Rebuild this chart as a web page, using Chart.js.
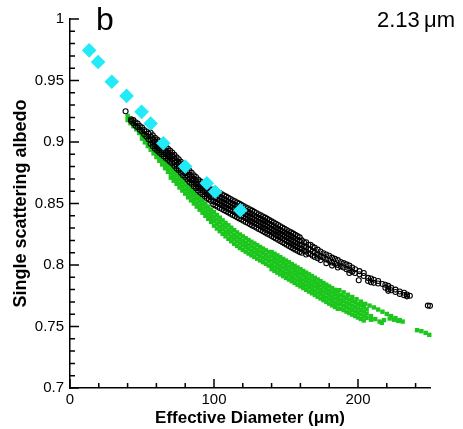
<!DOCTYPE html>
<html>
<head>
<meta charset="utf-8">
<script src="https://cdn.jsdelivr.net/npm/chart.js@4.4.1/dist/chart.umd.min.js"></script>
<style>
html, body { margin: 0; padding: 0; background: #fff; }
canvas { display: block; }
</style>
</head>
<body>
<canvas id="chart" width="463" height="429"></canvas>
<script>
const xMajorTicks = [0, 100, 200];
const xMinorTicks = [20, 40, 60, 80, 120, 140, 160, 180, 220, 240];
const yMajorTicks = [0.7, 0.75, 0.8, 0.85, 0.9, 0.95, 1];
const yMinorTicks = [0.71, 0.72, 0.73, 0.74, 0.76, 0.77, 0.78, 0.79, 0.81, 0.82, 0.83, 0.84,
    0.86, 0.87, 0.88, 0.89, 0.91, 0.92, 0.93, 0.94, 0.96, 0.97, 0.98, 0.99];

// cyan diamonds
const cyanX = [13.3, 19.5, 29, 39.3, 49.7, 56, 64.8, 80, 95, 100.8, 118.3];
const cyanY = [0.9745, 0.965, 0.949, 0.9375, 0.9245, 0.915, 0.899, 0.88, 0.8665, 0.8595, 0.8445];

// black open circles, one row per diameter: [x, y, y, ...]
const blackCols = [
    [38.6, .925],
    [42.5, .9185, .9170], [44, .9178, .9152], [45.5, .9160, .9132], [47, .9150, .9120],
    [48.5, .9130, .9100], [50, .9118, .9085], [51.5, .9098, .9062], [53, .9085, .9045],
    [54.5, .9068, .9022],
    [56, .9075, .9045, .9015, .8985], [57.5, .9055, .9025, .8995, .8965],
    [59, .9035, .9005, .8975, .8945], [60.5, .9020, .8990, .8960, .8930],
    [62, .9005, .8975, .8945, .8915], [63.5, .8990, .8960, .8930, .8900],
    [65, .8975, .8945, .8915, .8885], [66.5, .8960, .8930, .8900, .8870],
    [68, .8945, .8915, .8885, .8855], [69.5, .8930, .8900, .8870, .8840],
    [71, .8915, .8885, .8855, .8825], [72.5, .8895, .8865, .8835, .8805],
    [74, .8875, .8845, .8815, .8785], [75.5, .8860, .8830, .8800, .8770],
    [77, .8840, .8810, .8780, .8750], [78.5, .8820, .8790, .8760, .8730],
    [80, .8805, .8775, .8745, .8715], [81.5, .8785, .8755, .8725, .8695],
    [83, .8765, .8735, .8705, .8675], [84.5, .8750, .8720, .8690, .8660],
    [86, .8730, .8700, .8670, .8640], [87.5, .8715, .8685, .8655, .8625],
    [89, .8695, .8665, .8635, .8605], [90.5, .8680, .8650, .8620, .8590],
    [92, .8665, .8635, .8605, .8575], [93.5, .8650, .8620, .8590, .8560],
    [95, .8635, .8605, .8575, .8545], [96.5, .8623, .8593, .8563, .8533],
    [98, .8610, .8580, .8550, .8520],
    [99.5, .8613, .8583, .8553, .8523, .8493], [101, .8603, .8573, .8543, .8513, .8483],
    [102.5, .8594, .8564, .8534, .8504, .8474], [104, .8584, .8554, .8524, .8494, .8464],
    [105.5, .8575, .8545, .8515, .8485, .8455], [107, .8565, .8535, .8505, .8475, .8445],
    [108.5, .8556, .8526, .8496, .8466, .8436], [110, .8546, .8516, .8486, .8456, .8426],
    [111.5, .8537, .8507, .8477, .8447, .8417], [113, .8527, .8497, .8467, .8437, .8407],
    [114.5, .8518, .8488, .8458, .8428, .8398], [116, .8508, .8478, .8448, .8418, .8388],
    [117.5, .8499, .8469, .8439, .8409, .8379], [119, .8489, .8459, .8429, .8399, .8369],
    [120.5, .8480, .8450, .8420, .8390, .8360], [122, .8470, .8440, .8410, .8380, .8350],
    [123.5, .8461, .8431, .8401, .8371, .8341], [125, .8451, .8421, .8391, .8361, .8331],
    [126.5, .8442, .8412, .8382, .8352, .8322], [128, .8432, .8402, .8372, .8342, .8312],
    [129.5, .8423, .8393, .8363, .8333, .8303], [131, .8413, .8383, .8353, .8323, .8293],
    [132.5, .8404, .8374, .8344, .8314, .8284], [134, .8394, .8364, .8334, .8304, .8274],
    [135.5, .8385, .8355, .8325, .8295, .8265], [137, .8375, .8345, .8315, .8285, .8255],
    [138.5, .8365, .8335, .8305, .8275, .8245], [140, .8355, .8325, .8295, .8265, .8235],
    [141.5, .8345, .8315, .8285, .8255, .8225], [143, .8335, .8305, .8275, .8245, .8215],
    [144.5, .8325, .8295, .8265, .8235, .8205], [146, .8315, .8285, .8255, .8225, .8195],
    [147.5, .8305, .8275, .8245, .8215, .8185], [149, .8295, .8265, .8235, .8205, .8175],
    [150.5, .8285, .8255, .8225, .8195, .8165], [152, .8275, .8245, .8215, .8185, .8155],
    [153.5, .8265, .8235, .8205, .8175, .8145], [155, .8255, .8225, .8195, .8165, .8135],
    [156.5, .8245, .8215, .8185, .8155, .8125], [158, .8235, .8205, .8175, .8145, .8115],
    [159.5, .8225, .8195, .8165, .8135, .8105],
    [161, .8200, .8165, .8130, .8100], [162.5, .8185, .8150, .8115],
    [164, .8185, .8145, .8110, .8085], [165.5, .8165, .8130, .8095],
    [167, .8165, .8125, .8090], [168.5, .8150, .8110, .8075],
    [170, .8140, .8100, .8065], [172, .8125, .8085, .8055],
    [174, .8110, .8070, .8040], [176, .8095, .8060],
    [178, .8085, .8045, .8015], [180, .8075, .8035],
    [182, .8060, .8020, .7995], [184, .8050, .8010],
    [186, .8040, .8000, .7980], [188, .8025, .7990],
    [190, .8015, .7980], [192, .8005, .7965],
    [194, .7995, .7960, .7935], [196, .7980, .7945],
    [198, .7965, .7935], [200.5, .7876], [201, .7950, .7925],
    [204, .7935, .7910], [207, .7895, .7870], [209, .7890, .7860],
    [211, .7880, .7855], [214, .7870, .7850], [217, .7845],
    [219, .7840, .7815], [221, .7830, .7805, .7790], [223, .7815, .7795],
    [226, .7800, .7780], [229, .7785, .7765], [232, .7775, .7755],
    [234, .7760, .7745], [236, .7750], [248.5, .7670], [250, .7668]
];

// green filled squares, same layout
const greenCols = [
    [40, .9212, .9178], [42, .9187, .9153], [44, .9162, .9128], [46, .9137, .9103],
    [48, .9107, .9073],
    [50, .9093, .9060, .9027], [52, .9063, .9030, .8997], [54, .9033, .9000, .8967],
    [56, .9003, .8970, .8937], [58, .8973, .8940, .8907], [60, .8943, .8910, .8877],
    [62, .8913, .8880, .8847], [64, .8883, .8850, .8817], [66, .8853, .8820, .8787],
    [68, .8823, .8790, .8757],
    [70, .8810, .8777, .8743, .8710], [72, .8785, .8752, .8718, .8685],
    [74, .8760, .8727, .8693, .8660], [76, .8730, .8697, .8663, .8630],
    [78, .8705, .8672, .8638, .8605], [80, .8680, .8647, .8613, .8580],
    [82, .8650, .8617, .8583, .8550], [84, .8625, .8592, .8558, .8525],
    [86, .8600, .8567, .8533, .8500], [88, .8575, .8542, .8508, .8475],
    [90, .8550, .8517, .8483, .8450], [92, .8525, .8492, .8458, .8425],
    [94, .8500, .8467, .8433, .8400], [96, .8475, .8442, .8408, .8375],
    [98, .8450, .8417, .8383, .8350],
    [100, .8430, .8393, .8357, .8320], [102, .8407, .8370, .8334, .8297],
    [104, .8385, .8348, .8312, .8275], [106, .8363, .8326, .8290, .8253],
    [108, .8343, .8306, .8270, .8233], [110, .8323, .8286, .8250, .8213],
    [112, .8303, .8266, .8230, .8193], [114, .8283, .8246, .8210, .8173],
    [116, .8265, .8228, .8192, .8155], [118, .8248, .8211, .8175, .8138],
    [120, .8233, .8196, .8160, .8123], [122, .8218, .8181, .8145, .8108],
    [124, .8203, .8166, .8130, .8093], [126, .8189, .8152, .8116, .8079],
    [128, .8175, .8138, .8102, .8065], [130, .8161, .8124, .8088, .8051],
    [132, .8147, .8110, .8074, .8037], [134, .8133, .8096, .8060, .8023],
    [136, .8119, .8082, .8046, .8009], [138, .8105, .8068, .8032, .7995],
    [140, .8106, .8071, .8036, .8001, .7966], [142, .8092, .8057, .8022, .7987, .7952],
    [144, .8078, .8043, .8008, .7973, .7938], [146, .8064, .8029, .7994, .7959, .7924],
    [148, .8050, .8015, .7980, .7945, .7910], [150, .8036, .8001, .7966, .7931, .7896],
    [152, .8022, .7987, .7952, .7917, .7882], [154, .8008, .7973, .7938, .7903, .7868],
    [156, .7994, .7959, .7924, .7889, .7854], [158, .7980, .7945, .7910, .7875, .7840],
    [160, .7966, .7931, .7896, .7861, .7826], [162, .7952, .7917, .7882, .7847, .7812],
    [164, .7938, .7903, .7868, .7833, .7798], [166, .7924, .7889, .7854, .7819, .7784],
    [168, .7910, .7875, .7840, .7805, .7770], [170, .7896, .7861, .7826, .7791, .7756],
    [172, .7882, .7847, .7812, .7777, .7742], [174, .7868, .7833, .7798, .7763, .7728],
    [176, .7854, .7819, .7784, .7749, .7714], [178, .7840, .7805, .7770, .7735, .7700],
    [180, .7826, .7791, .7756, .7721, .7686], [182, .7812, .7777, .7742, .7707, .7672],
    [184, .7798, .7763, .7728, .7693, .7658], [186, .7784, .7749, .7714, .7679, .7644],
    [188, .7755, .7718, .7682, .7645], [190, .7743, .7706, .7670, .7633],
    [192, .7731, .7694, .7658, .7621], [194, .7719, .7682, .7646, .7609],
    [196, .7707, .7670, .7634, .7597], [198, .7695, .7658, .7622, .7585],
    [200, .7683, .7646, .7610, .7573], [202, .7671, .7634, .7598, .7561],
    [204, .7659, .7622, .7586, .7549], [206, .7640, .7605, .7570],
    [187, .7795], [190, .7778], [193, .7758], [196, .7740], [199, .7722], [202, .7702],
    [205, .7684], [208, .7670], [211, .7655], [214, .7638], [217, .7620], [220, .7602],
    [223, .7585], [226, .7568], [229, .7552], [231, .7540],
    [209, .7585, .7555], [212, .7560], [215, .7540], [216.5, .7530], [218, .7552],
    [222, .7565], [225, .7555], [228, .7545], [241, .7470], [244, .7462],
    [247, .7448], [249.5, .7432]
];

function colsToPoints(cols) {
    return cols.flatMap(c => c.slice(1).map(y => ({ x: c[0], y: y })));
}

const FONT = '"Liberation Sans", Arial, Helvetica, sans-serif';

const innerTicks = {
    id: 'innerTicks',
    afterDraw(chart) {
        const { ctx, chartArea, scales } = chart;
        const xs = scales.x, ys = scales.y;
        ctx.save();
        ctx.strokeStyle = '#000';
        ctx.lineWidth = 1.5;
        ctx.beginPath();
        xMajorTicks.forEach(v => {
            const p = xs.getPixelForValue(v);
            ctx.moveTo(p, chartArea.bottom); ctx.lineTo(p, chartArea.bottom - 9);
        });
        xMinorTicks.forEach(v => {
            const p = xs.getPixelForValue(v);
            ctx.moveTo(p, chartArea.bottom); ctx.lineTo(p, chartArea.bottom - 5);
        });
        yMajorTicks.forEach(v => {
            const p = ys.getPixelForValue(v);
            ctx.moveTo(chartArea.left, p); ctx.lineTo(chartArea.left + 9, p);
        });
        yMinorTicks.forEach(v => {
            const p = ys.getPixelForValue(v);
            ctx.moveTo(chartArea.left, p); ctx.lineTo(chartArea.left + 5, p);
        });
        ctx.stroke();
        ctx.fillStyle = '#000';
        ctx.textBaseline = 'alphabetic';
        ctx.textAlign = 'left';
        ctx.font = '32px ' + FONT;
        ctx.fillText('b', 96, 30);
        ctx.font = '22px ' + FONT;
        ctx.fillText('2.13', 377, 27);
        ctx.fillText('\u03bcm', 424, 27);
        ctx.restore();
    }
};

new Chart(document.getElementById('chart'), {
    type: 'scatter',
    data: {
        datasets: [
            {
                label: 'cyan',
                data: cyanX.map((x, i) => ({ x: x, y: cyanY[i] })),
                pointStyle: 'rectRot',
                pointRadius: 7.3,
                backgroundColor: '#22eaf6',
                borderWidth: 0,
                clip: false
            },
            {
                label: 'black',
                data: colsToPoints(blackCols),
                pointStyle: 'circle',
                pointRadius: 2.5,
                backgroundColor: 'rgba(0,0,0,0)',
                borderColor: '#000',
                borderWidth: 1.1,
                clip: false
            },
            {
                label: 'green',
                data: colsToPoints(greenCols),
                pointStyle: 'rect',
                pointRadius: 3.1,
                backgroundColor: '#1dc61d',
                borderWidth: 0,
                clip: false
            }
        ]
    },
    options: {
        responsive: false,
        animation: false,
        events: [],
        layout: { padding: { top: 19, right: 33, left: 0, bottom: 0 } },
        plugins: { legend: { display: false }, tooltip: { enabled: false } },
        scales: {
            x: {
                type: 'linear',
                min: 0,
                max: 250,
                afterBuildTicks: s => { s.ticks = xMajorTicks.map(v => ({ value: v })); },
                afterFit: s => { s.height = 41; },
                grid: { display: false, drawTicks: false },
                border: { display: true, color: '#000', width: 1.5 },
                ticks: { color: '#000', padding: 3, font: { family: FONT, size: 15 } },
                title: {
                    display: true,
                    text: 'Effective Diameter (\u03bcm)',
                    color: '#000',
                    padding: { top: 0, bottom: 0 },
                    font: { family: FONT, size: 17, weight: 'bold' }
                }
            },
            y: {
                type: 'linear',
                min: 0.7,
                max: 1,
                afterBuildTicks: s => { s.ticks = yMajorTicks.map(v => ({ value: v })); },
                afterFit: s => { s.width = 70; },
                grid: { display: false, drawTicks: false },
                border: { display: true, color: '#000', width: 1.5 },
                ticks: {
                    color: '#000',
                    padding: 6,
                    font: { family: FONT, size: 15 },
                    callback: v => String(Number(v.toFixed(2)))
                },
                title: {
                    display: true,
                    text: 'Single scattering albedo',
                    color: '#000',
                    padding: { top: 10, bottom: 0 },
                    font: { family: FONT, size: 18, weight: 'bold' }
                }
            }
        }
    },
    plugins: [innerTicks]
});
</script>
</body>
</html>
